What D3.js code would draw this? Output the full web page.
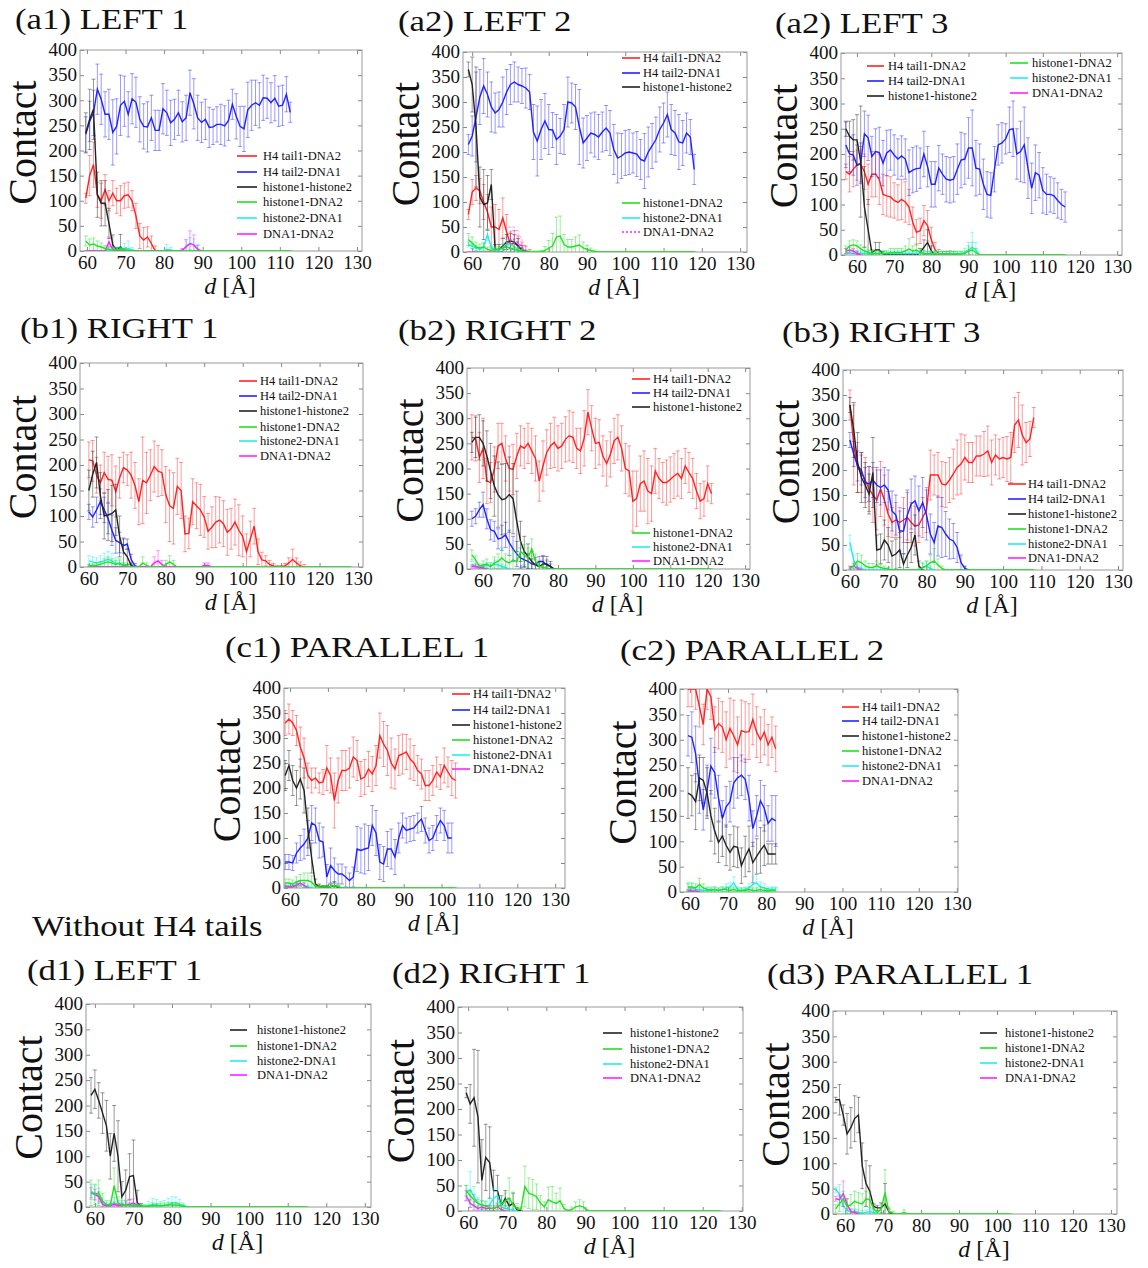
<!DOCTYPE html>
<html>
<head>
<meta charset="utf-8">
<script src="https://cdn.jsdelivr.net/npm/d3@7"></script>
<style>
  body { margin: 0; background: #fff; }
  svg { display: block; }
  text { font-family: "Liberation Serif", "Times New Roman", serif; fill: #111; }
</style>
</head>
<body>
<svg id="fig" width="1148" height="1268"></svg>
<script>
// ---- shared labels ----
const xTicks = [60, 70, 80, 90, 100, 110, 120, 130];
const yTicks = [0, 50, 100, 150, 200, 250, 300, 350, 400];
const seriesNames = ["H4 tail1-DNA2", "H4 tail2-DNA1", "histone1-histone2", "histone1-DNA2", "histone2-DNA1", "DNA1-DNA2"];
const seriesColors = ["#ff2222", "#2222ff", "#222222", "#22e022", "#22eeee", "#ff22ff"];

// ---- (a1) LEFT 1 ----
const a1Tail1 = [105,150,172,112,100,122,100,115,100,100,110,112,100,70,30,22,28,15,0];
const a1Tail1Err = [10,40,45,25,35,30,20,25,25,30,25,25,20,25,25,25,20,15,10];
const a1Tail2 = [232,258,275,322,302,272,272,236,248,290,298,272,303,296,262,248,247,265,240,240,283,275,255,262,275,257,265,315,293,265,256,262,246,247,252,252,249,260,292,268,248,243,281,290,295,290,305,304,295,304,288,290,312,276];
const a1Tail2Err = [35,40,45,50,50,45,50,65,55,60,50,45,50,50,45,45,50,45,40,40,50,45,45,40,45,40,45,45,50,45,40,40,40,35,35,40,40,40,30,45,40,45,55,50,45,45,45,40,40,45,40,40,35,20];
const a1H1H2 = [235,262,282,112,95,95,55,12,2,8,0];
const a1H1H2Err = [40,60,60,45,45,45,30,20,5,25,5];
const a1H1D2 = [20,12,14,10,8,5,3,2,3,2,2,1];
const a1H1D2Err = [10,12,12,10,8,6,5,4,4,4,3,2];
const a1H2D1 = [0,0,0,0,0,0,2,3,3,3,5,5,2,0,0,0,0,0,0,0,0,3,2,0,0,0,10,15,12,5,0];
const a1H2D1Err = [0,0,0,0,0,0,3,5,5,5,10,15,5,0,0,0,0,0,0,0,0,10,5,0,0,0,10,12,12,8,0];
const a1D1D2 = [0,0,0,0,0,0,18,3,0,0,0,0,0,0,0,0,0,0,0,0,0,0,0,0,0,2,8,15,12,3,0];
const a1D1D2Err = [0,0,0,0,0,0,10,5,0,0,0,0,0,0,0,0,0,0,0,0,0,0,0,0,0,3,15,25,20,8,0];

// ---- (a2) LEFT 2 ----
const a2Tail1 = [75,120,128,122,100,80,50,50,45,68,40,15,18,12,5,2,0];
const a2Tail1Err = [10,25,25,25,35,35,40,45,40,40,35,25,25,20,15,10,5];
const a2Tail2 = [215,232,270,310,332,315,290,278,285,300,320,335,340,335,332,328,320,240,222,245,262,245,244,225,232,245,300,298,290,250,218,228,238,235,230,240,248,238,205,188,192,198,200,198,196,185,182,200,212,225,245,258,275,245,238,220,218,238,230,165];
const a2Tail2Err = [20,40,90,55,55,45,50,40,35,50,45,40,40,35,35,40,35,55,70,60,55,50,35,50,35,50,50,40,45,75,50,45,40,45,45,40,45,45,50,50,45,45,45,40,45,40,55,50,45,45,45,40,45,50,45,55,45,40,35,30];
const a2H1H2 = [365,335,250,110,95,98,135,5,5,12,20,22,20,12,3,0];
const a2H1H2Err = [15,55,120,60,70,55,30,10,10,15,15,15,15,15,10,0];
const a2H1D2 = [25,18,10,8,10,5,3,5,6,8,10,8,5,3,1,0,0,0,0,0,3,8,12,30,32,15,10,10,12,14,8,5,3,1,0];
const a2H1D2Err = [12,12,10,8,8,5,5,5,5,8,10,8,5,5,3,2,2,2,2,3,8,15,25,40,40,20,15,15,18,20,12,8,5,3,0];
const a2H2D1 = [15,12,8,5,10,35,8,5,3,8,15,15,10,5,2,0];
const a2H2D1Err = [5,5,5,5,8,12,5,5,5,8,10,10,10,5,3,0];
const a2D1D2 = [0,0,0,0,0,0,0,0,0,0,15,25,25,18,10,3,0];
const a2D1D2Err = [0,0,0,0,0,0,0,0,0,0,15,25,25,25,20,10,0];

// ---- (a2) LEFT 3 ----
const a3Tail1 = [165,160,170,178,180,165,140,160,160,150,120,117,115,108,104,110,105,95,65,45,48,68,58,30,10,3,2,2,3,2,0];
const a3Tail1Err = [15,35,35,30,35,35,40,45,45,50,40,40,40,35,35,40,40,35,30,25,25,30,30,25,15,8,5,5,5,5,0];
const a3Tail2 = [218,200,198,178,182,240,232,195,205,203,182,202,208,198,190,196,190,163,168,171,172,200,175,140,140,172,160,150,148,150,170,188,190,212,212,172,170,140,120,118,170,218,222,230,248,250,200,205,218,172,132,163,158,128,120,120,117,108,100,95];
const a3Tail2Err = [45,35,40,40,40,45,45,40,45,50,45,45,40,40,40,40,40,45,45,45,40,45,40,45,45,45,40,45,45,45,50,55,50,60,75,55,50,50,45,45,45,40,40,30,45,55,50,60,75,60,50,55,45,45,40,35,35,35,30,30];
const a3H1H2 = [250,235,228,228,185,95,50,5,10,10,2,0,0,0,0,0,0,0,0,0,5,15,25,8,0];
const a3H1H2Err = [15,30,40,50,110,80,60,5,15,15,5,0,0,0,0,0,0,0,0,0,8,15,25,10,0];
const a3H1D2 = [10,18,20,18,12,8,5,3,3,3,3,3,5,5,5,5,8,12,8,10,5,3,2,2,2,2,2,2,2,2,2,2,3,8,10,5,0];
const a3H1D2Err = [8,10,10,10,8,8,5,5,5,5,5,5,8,8,8,8,10,20,10,12,8,5,5,5,5,5,5,5,5,5,5,5,5,10,15,8,0];
const a3H2D1 = [5,3,3,3,3,3,3,3,3,3,3,3,3,3,3,3,3,3,3,3,3,3,3,3,3,3,3,3,3,3,3,3,5,10,15,10,0];
const a3H2D1Err = [8,5,5,5,5,5,5,5,5,5,5,5,5,5,5,5,5,5,5,5,5,5,5,5,5,5,5,5,5,5,5,5,8,15,30,15,0];
const a3D1D2 = [8,10,8,3,0];
const a3D1D2Err = [5,5,5,3,0];

// ---- (b1) RIGHT 1 ----
const b1Tail1 = [210,208,180,165,185,172,170,148,175,195,190,180,160,128,170,165,180,197,188,185,142,120,115,158,150,65,66,128,120,112,98,70,78,88,92,85,68,75,88,72,60,30,55,80,30,14,12,5,2,0,0,2,8,15,8,2,0];
const b1Tail1Err = [35,40,35,35,40,45,50,50,40,30,30,45,45,45,85,60,50,50,50,45,55,70,70,55,55,35,30,45,45,50,40,35,40,50,45,45,45,40,45,50,40,35,35,35,25,15,10,8,5,3,3,5,10,20,10,8,5];
const b1Tail2 = [108,98,112,128,112,95,72,52,48,42,45,15,2,0];
const b1Tail2Err = [15,20,25,25,25,30,30,25,20,15,10,10,5,0];
const b1H1H2 = [150,182,205,140,100,102,105,112,60,30,20,3,0];
const b1H1H2Err = [40,45,50,45,45,50,55,50,40,25,15,5,0];
const b1H1D2 = [2,3,3,5,8,10,8,5,8,3,2,0,0,0,8,3,0,0,0,0,5,10,5,0];
const b1H1D2Err = [3,3,5,5,8,10,8,8,8,5,3,0,0,0,12,5,0,0,0,0,8,12,8,0];
const b1H2D1 = [12,10,8,10,12,15,12,8,5,3,0];
const b1H2D1Err = [10,10,10,12,15,15,15,10,8,5,0];
const b1D1D2 = [0,0,0,0,0,0,0,0,0,0,0,0,0,0,0,0,0,8,12,5,0,0,0,0,0,0,0,0,0,0,3,3,0];
const b1D1D2Err = [0,0,0,0,0,0,0,0,0,0,0,0,0,0,0,0,0,12,20,8,0,0,0,0,0,0,0,0,0,0,5,5,0];

// ---- (b2) RIGHT 2 ----
const b2Tail1 = [262,260,222,240,175,172,198,245,250,220,200,198,225,245,240,250,235,220,175,205,232,245,252,240,245,258,265,262,240,235,260,312,280,250,252,225,210,228,255,262,240,200,195,135,140,170,175,155,150,195,180,172,172,178,185,190,180,205,192,180,155,135,140,170,150];
const b2Tail1Err = [45,45,50,60,45,40,45,45,40,45,45,50,45,40,40,40,45,45,40,50,45,45,50,45,45,45,50,50,40,45,55,45,45,50,45,40,45,45,45,45,45,50,50,60,55,55,60,65,55,45,40,40,45,45,45,45,40,35,40,40,35,35,35,35,20];
const b2Tail2 = [100,105,118,128,100,78,75,60,62,68,52,40,30,22,18,15,10,8,15,15,8,5,0];
const b2Tail2Err = [15,15,15,25,20,20,20,20,25,25,25,25,25,20,15,15,10,10,10,12,10,5,0];
const b2H1H2 = [252,262,262,250,225,195,165,148,138,140,148,140,95,55,35,25,15,8,5,10,10,5,0];
const b2H1H2Err = [20,40,45,45,50,55,60,65,70,70,75,70,60,40,30,25,20,15,10,15,15,10,0];
const b2H1D2 = [28,18,5,8,10,5,12,15,22,15,12,18,15,35,28,22,40,15,5,3,2,0];
const b2H1D2Err = [10,8,5,8,10,8,12,15,20,15,15,20,20,20,20,20,20,15,8,5,3,0];
const b2H2D1 = [10,5,3,5,8,5,10,8,5,3,0];
const b2H2D1Err = [5,5,5,5,5,5,8,8,5,5,0];
const b2D1D2 = [5,5,3,2,0];
const b2D1D2Err = [3,3,3,2,0];

// ---- (b3) RIGHT 3 ----
const b3Tail1 = [330,250,205,195,180,162,150,140,162,140,112,95,100,95,100,105,95,88,90,105,120,190,190,190,172,170,180,192,205,212,225,215,215,228,228,232,238,215,230,222,225,222,225,290,300,270,255,262,305];
const b3Tail1Err = [30,80,50,40,45,45,55,60,55,50,45,30,35,30,45,50,40,40,35,40,45,50,40,45,45,45,45,50,55,60,45,40,40,40,40,45,50,45,40,40,40,45,50,55,55,60,40,35,20];
const b3Tail2 = [260,232,208,200,175,172,180,170,165,170,160,118,110,78,78,110,132,138,118,135,110,72,55,88,85,72,62,58,45,15,3,0];
const b3Tail2Err = [15,25,30,30,30,35,35,35,35,35,40,40,40,40,45,50,50,50,50,50,50,40,40,60,60,45,40,35,30,15,5,0];
const b3H1H2 = [330,280,215,185,170,152,195,40,42,60,50,28,32,40,12,30,45,70,8,0];
const b3H1H2Err = [15,55,60,50,45,40,70,30,30,40,35,30,30,35,20,25,30,40,10,0];
const b3H1D2 = [3,8,18,15,8,5,5,8,5,3,2,0,0,0,0,0,0,0,0,5,8,15,18,10,3,0];
const b3H1D2Err = [3,8,15,15,10,8,8,10,8,5,3,0,0,0,0,0,0,0,0,8,10,15,25,12,5,0];
const b3H2D1 = [55,20,5,3,0,0,0,0,0,0,0,0,0,0,0,0,0,0,0,5,8,3,0];
const b3H2D1Err = [15,10,5,3,0,0,0,0,0,0,0,0,0,0,0,0,0,0,0,10,10,5,0];
const b3D1D2 = [5,8,3,0];
const b3D1D2Err = [3,5,3,0];

// ---- (c1) PARALLEL 1 ----
const c1Tail1 = [330,338,330,315,282,260,225,215,220,210,212,240,225,175,215,235,235,240,262,255,218,222,238,228,245,305,288,275,250,238,265,268,272,258,250,235,228,205,205,215,232,222,245,232,220,215];
const c1Tail1Err = [25,30,25,30,40,40,25,25,20,20,25,45,35,55,45,40,40,40,40,40,35,35,35,35,40,45,45,50,50,40,40,40,35,40,35,30,30,30,30,30,30,25,35,30,35,35];
const c1Tail2 = [52,52,50,70,80,88,100,130,125,95,92,22,45,35,28,28,22,15,22,78,75,78,80,125,110,52,48,78,78,62,100,125,115,118,120,130,138,115,95,100,120,135,125,100,100];
const c1Tail2Err = [15,15,15,20,25,30,35,35,35,35,30,25,35,25,20,20,20,15,20,45,45,50,45,40,45,35,35,35,40,35,30,25,25,25,25,20,25,25,25,25,25,25,30,30,30];
const c1H1H2 = [225,245,215,200,218,195,120,60,8,3,2,2,3,5,1,0];
const c1H1H2Err = [30,30,30,35,40,45,40,30,10,5,3,3,5,8,3,0];
const c1H1D2 = [10,10,8,12,15,15,15,12,3,2,2,2,3,5,3,0];
const c1H1D2Err = [8,8,8,10,12,15,15,12,5,3,3,3,5,5,3,0];
const c1H2D1 = [5,3,3,8,10,5,3,0];
const c1H2D1Err = [5,3,3,5,5,5,3,0];
const c1D1D2 = [3,2,3,5,10,5,0];
const c1D1D2Err = [3,2,3,5,5,5,0];

// ---- (c2) PARALLEL 2 ----
const c2Tail1 = [400,400,400,365,330,400,385,320,332,325,300,322,308,290,318,315,316,340,315,300,315,290,305,282];
const c2Tail1Err = [35,35,40,40,40,40,45,45,50,50,55,60,70,55,60,60,55,50,50,45,45,40,40,45];
const c2Tail2 = [308,305,272,210,162,200,248,235,185,145,168,178,215,225,230,222,185,125,150,180,165,135,145,140];
const c2Tail2Err = [40,50,55,55,40,50,55,50,45,35,40,40,50,40,40,40,45,35,40,40,45,35,45,50];
const c2H1H2 = [195,190,178,225,220,195,150,120,98,110,92,78,90,88,52,70,85,58,70,82,92,75,75,75];
const c2H1H2Err = [50,40,55,45,45,50,50,45,40,40,40,35,40,40,35,40,45,40,35,45,40,20,20,20];
const c2H1D2 = [10,10,8,15,8,5,3,5,3,5,5,3,5,2,3,3,5,3,3,5,3,2,3,3];
const c2H1D2Err = [8,8,8,12,8,5,5,5,5,5,5,5,5,5,5,5,5,5,5,5,5,5,5,5];
const c2H2D1 = [8,8,5,5,3,3,5,5,3,5,8,10,18,5,3,5,8,15,18,10,8,5,5,5];
const c2H2D1Err = [8,8,5,5,5,5,5,5,5,5,8,8,12,5,5,5,8,15,18,10,8,5,5,5];
const c2D1D2 = [3,2,2,0];
const c2D1D2Err = [2,2,2,0];

// ---- (d1) LEFT 1, without H4 tails ----
const d1H1H2 = [220,232,210,185,160,100,145,100,20,33,60,62,8,2,0];
const d1H1H2Err = [35,38,35,40,50,45,55,70,30,40,45,70,25,5,0];
const d1H1D2 = [28,25,28,12,5,3,42,8,3,5,3,2,2,1,1,1,3,2,2,3,4,4,4,3,1,0];
const d1H1D2Err = [25,20,25,15,8,5,35,12,5,8,5,3,3,3,3,3,5,5,5,5,5,5,5,5,3,0];
const d1H2D1 = [30,28,22,8,3,5,8,5,5,5,3,2,2,1,1,3,5,5,3,3,5,8,8,5,3,0];
const d1H2D1Err = [15,15,15,8,5,8,10,8,8,8,5,3,3,3,3,8,12,10,8,10,12,12,12,10,5,0];
const d1D1D2 = [28,25,20,5,2,3,5,3,3,5,5,8,3,0];
const d1D1D2Err = [10,10,10,5,3,3,5,3,3,5,8,8,5,0];

// ---- (d2) RIGHT 1, without H4 tails ----
const d2H1H2 = [232,210,222,185,60,105,95,40,40,10,25,10,15,2,0];
const d2H1H2Err = [10,38,95,130,80,65,70,40,30,20,15,15,20,5,0];
const d2H1D2 = [40,30,22,15,12,10,6,5,8,12,20,25,12,5,3,48,35,32,28,15,8,22,18,15,20,5,0,3,8,10,8,0];
const d2H1D2Err = [10,10,10,8,8,8,5,5,8,10,15,40,25,10,5,40,30,30,25,15,10,25,30,20,25,8,3,5,10,12,10,3];
const d2H2D1 = [35,42,28,15,10,10,12,25,30,8,5,3,2,0];
const d2H2D1Err = [15,35,20,12,10,10,12,20,15,10,5,5,3,0];
const d2D1D2 = [30,15,10,5,8,5,5,5,8,3,0];
const d2D1D2Err = [10,8,8,5,5,5,5,5,5,3,0];

// ---- (d3) PARALLEL 1, without H4 tails ----
const d3H1H2 = [225,225,195,158,170,188,195,95,60,45,15,12,12,20,5,0];
const d3H1H2Err = [5,30,20,40,40,45,35,45,45,50,5,5,10,40,5,0];
const d3H1D2 = [10,20,30,15,18,25,22,20,30,28,10,3,10,42,5,2,0,0,3,0];
const d3H1D2Err = [8,15,15,15,20,20,20,20,15,15,8,5,10,45,8,3,0,0,5,0];
const d3H2D1 = [48,40,15,8,3,5,3,2,3,5,3,0];
const d3H2D1Err = [5,18,15,10,5,5,5,5,5,5,5,0];
const d3D1D2 = [30,28,40,20,5,3,0];
const d3D1D2Err = [5,10,25,10,5,5,0];

// panel layout: box = [left, top, right, bottom] in px, dom = x domain in Å,
// start = d of first sample (1 Å spacing), n = samples along the green zero line
const panels = [
  { id: "a1", title: "(a1) LEFT 1", tx: 15, ty: 29, box: [80, 50, 362, 251], dom: [58.2, 131.3], start: 59.7, n: 54,
    data: [[a1Tail1, a1Tail1Err], [a1Tail2, a1Tail2Err], [a1H1H2, a1H1H2Err], [a1H1D2, a1H1D2Err], [a1H2D1, a1H2D1Err], [a1D1D2, a1D1D2Err]],
    legend: [{ x1: 237, x2: 257, tx: 263, rows: [156, 172, 187, 202, 218, 234], items: [0, 1, 2, 3, 4, 5] }] },
  { id: "a2", title: "(a2) LEFT 2", tx: 398, ty: 31, box: [463, 52, 747, 252], dom: [57.6, 131.8], start: 59, n: 60, dashed: 5,
    data: [[a2Tail1, a2Tail1Err], [a2Tail2, a2Tail2Err], [a2H1H2, a2H1H2Err], [a2H1D2, a2H1D2Err], [a2H2D1, a2H2D1Err], [a2D1D2, a2D1D2Err]],
    legend: [{ x1: 622, x2: 640, tx: 643, rows: [58, 73, 87], items: [0, 1, 2] },
             { x1: 622, x2: 640, tx: 643, rows: [203, 218, 232], items: [3, 4, 5] }] },
  { id: "a3", title: "(a2) LEFT 3", tx: 775, ty: 33, box: [841, 53, 1122, 255], dom: [55.7, 131.3], start: 57, n: 60,
    data: [[a3Tail1, a3Tail1Err], [a3Tail2, a3Tail2Err], [a3H1H2, a3H1H2Err], [a3H1D2, a3H1D2Err], [a3H2D1, a3H2D1Err], [a3D1D2, a3D1D2Err]],
    legend: [{ x1: 867, x2: 884, tx: 888, rows: [66, 81, 96], items: [0, 1, 2] },
             { x1: 1010, x2: 1028, tx: 1032, rows: [63, 78, 93], items: [3, 4, 5] }] },
  { id: "b1", title: "(b1) RIGHT 1", tx: 20, ty: 338, box: [80, 363, 363, 567], dom: [57.7, 131.3], start: 60, n: 69,
    data: [[b1Tail1, b1Tail1Err], [b1Tail2, b1Tail2Err], [b1H1H2, b1H1H2Err], [b1H1D2, b1H1D2Err], [b1H2D1, b1H2D1Err], [b1D1D2, b1D1D2Err]],
    legend: [{ x1: 239, x2: 257, tx: 260, rows: [381, 396, 411, 427, 441, 456], items: [0, 1, 2, 3, 4, 5] }] },
  { id: "b2", title: "(b2) RIGHT 2", tx: 398, ty: 340, box: [467, 368, 750, 569], dom: [55.7, 131.3], start: 57, n: 65,
    data: [[b2Tail1, b2Tail1Err], [b2Tail2, b2Tail2Err], [b2H1H2, b2H1H2Err], [b2H1D2, b2H1D2Err], [b2H2D1, b2H2D1Err], [b2D1D2, b2D1D2Err]],
    legend: [{ x1: 632, x2: 650, tx: 653, rows: [379, 393, 407], items: [0, 1, 2] },
             { x1: 632, x2: 650, tx: 653, rows: [533, 547, 561], items: [3, 4, 5] }] },
  { id: "b3", title: "(b3) RIGHT 3", tx: 782, ty: 342, box: [843, 370, 1123, 570], dom: [58.2, 131.3], start: 60, n: 49,
    data: [[b3Tail1, b3Tail1Err], [b3Tail2, b3Tail2Err], [b3H1H2, b3H1H2Err], [b3H1D2, b3H1D2Err], [b3H2D1, b3H2D1Err], [b3D1D2, b3D1D2Err]],
    legend: [{ x1: 1008, x2: 1026, tx: 1028, rows: [484, 499, 514, 529, 544, 558], items: [0, 1, 2, 3, 4, 5] }] },
  { id: "c1", title: "(c1) PARALLEL 1", tx: 225, ty: 657, box: [284, 688, 565, 888], dom: [58.4, 132.6], start: 58.7, n: 46,
    data: [[c1Tail1, c1Tail1Err], [c1Tail2, c1Tail2Err], [c1H1H2, c1H1H2Err], [c1H1D2, c1H1D2Err], [c1H2D1, c1H2D1Err], [c1D1D2, c1D1D2Err]],
    legend: [{ x1: 452, x2: 470, tx: 473, rows: [694, 710, 725, 740, 755, 769], items: [0, 1, 2, 3, 4, 5] }] },
  { id: "c2", title: "(c2) PARALLEL 2", tx: 620, ty: 660, box: [680, 689, 958, 892], dom: [57.4, 130.3], start: 59.5, n: 24,
    data: [[c2Tail1, c2Tail1Err], [c2Tail2, c2Tail2Err], [c2H1H2, c2H1H2Err], [c2H1D2, c2H1D2Err], [c2H2D1, c2H2D1Err], [c2D1D2, c2D1D2Err]],
    legend: [{ x1: 842, x2: 859, tx: 862, rows: [707, 721, 736, 751, 766, 781], items: [0, 1, 2, 3, 4, 5] }] },
  { id: "d1", title: "(d1) LEFT 1", tx: 27, ty: 980, box: [86, 1004, 371, 1207], dom: [57.7, 131.6], start: 59, n: 57,
    data: [null, null, [d1H1H2, d1H1H2Err], [d1H1D2, d1H1D2Err], [d1H2D1, d1H2D1Err], [d1D1D2, d1D1D2Err]],
    legend: [{ x1: 230, x2: 247, tx: 257, rows: [1030, 1046, 1061, 1075], items: [2, 3, 4, 5] }] },
  { id: "d2", title: "(d2) RIGHT 1", tx: 392, ty: 983, box: [458, 1007, 743, 1211], dom: [57.4, 130.3], start: 59.5, n: 66,
    data: [null, null, [d2H1H2, d2H1H2Err], [d2H1D2, d2H1D2Err], [d2H2D1, d2H2D1Err], [d2D1D2, d2D1D2Err]],
    legend: [{ x1: 603, x2: 622, tx: 630, rows: [1033, 1049, 1064, 1078], items: [2, 3, 4, 5] }] },
  { id: "d3", title: "(d3) PARALLEL 1", tx: 767, ty: 984, box: [833, 1011, 1117, 1214], dom: [56.8, 131.6], start: 57.5, n: 47,
    data: [null, null, [d3H1H2, d3H1H2Err], [d3H1D2, d3H1D2Err], [d3H2D1, d3H2D1Err], [d3D1D2, d3D1D2Err]],
    legend: [{ x1: 980, x2: 997, tx: 1005, rows: [1033, 1048, 1063, 1078], items: [2, 3, 4, 5] }] }
];

const svg = d3.select("#fig");
const defs = svg.append("defs");

// zeros past the end of the short green series (the plot shows them lying on 0)
function pad(arr, n) {
  const out = arr.slice();
  while (out.length < n) out.push(0);
  return out;
}

function drawPanel(p) {
  const [left, top, right, bottom] = p.box;
  const x = d3.scaleLinear().domain(p.dom).range([left, right]);
  const y = d3.scaleLinear().domain([0, 400]).range([bottom, top]);
  const g = svg.append("g").attr("id", "panel-" + p.id);

  g.append("text").attr("class", "title").attr("x", p.tx).attr("y", p.ty)
    .attr("font-size", 30).text(p.title);

  defs.append("clipPath").attr("id", "clip-" + p.id)
    .append("rect").attr("x", left).attr("y", top).attr("width", right - left).attr("height", bottom - top);

  // axes, ticks pointing inwards on all four sides
  const xb = g.append("g").attr("transform", `translate(0,${bottom})`)
    .call(d3.axisBottom(x).tickValues(xTicks).tickSize(-4).tickPadding(5).tickFormat(d3.format("d")));
  const yl = g.append("g").attr("transform", `translate(${left},0)`)
    .call(d3.axisLeft(y).tickValues(yTicks).tickSize(-4).tickPadding(3).tickFormat(d3.format("d")));
  g.append("g").attr("transform", `translate(0,${top})`)
    .call(d3.axisTop(x).tickValues(xTicks).tickSize(-4).tickFormat(""));
  g.append("g").attr("transform", `translate(${right},0)`)
    .call(d3.axisRight(y).tickValues(yTicks).tickSize(-4).tickFormat(""));
  g.selectAll(".domain").remove();
  g.selectAll(".tick line").attr("stroke", "#888");
  [xb, yl].forEach(a => a.selectAll("text").attr("class", "tk").attr("font-size", 18).attr("fill", "#111"));

  g.append("rect").attr("x", left).attr("y", top).attr("width", right - left).attr("height", bottom - top)
    .attr("fill", "none").attr("stroke", "#999").attr("stroke-width", 1);

  // axis titles
  const cy = (top + bottom) / 2 - 8;
  g.append("text").attr("transform", `translate(${left - 44},${cy}) rotate(-90)`)
    .attr("text-anchor", "middle").attr("font-size", 40).text("Contact");
  const xl = g.append("text").attr("x", (left + right) / 2 + 9).attr("y", bottom + 43)
    .attr("text-anchor", "middle").attr("font-size", 24);
  xl.append("tspan").attr("font-style", "italic").text("d");
  xl.append("tspan").text(" [Å]");

  // series: green drawn last so it lies on top along the zero line
  const plot = g.append("g").attr("clip-path", `url(#clip-${p.id})`);
  const line = d3.line().x(pt => x(pt.d)).y(pt => y(pt.v));
  [0, 1, 2, 4, 5, 3].forEach(s => {
    const pair = p.data[s];
    if (!pair) return;
    const len = s === 3 ? p.n : pair[0].length;
    const vals = pad(pair[0], len);
    const errs = pad(pair[1], len);
    const pts = vals.map((v, i) => ({ d: p.start + i, v: v, e: errs[i] }));
    const dash = p.dashed === s ? "2,2" : null;

    plot.append("g").attr("fill", "none").attr("stroke", seriesColors[s])
      .attr("stroke-opacity", 0.45).attr("stroke-width", 1).attr("stroke-dasharray", dash)
      .selectAll("path").data(pts).join("path")
      .attr("d", pt => {
        const xx = x(pt.d), ya = y(pt.v - pt.e), yb = y(pt.v + pt.e);
        return `M${xx},${ya}V${yb}M${xx - 2},${ya}H${xx + 2}M${xx - 2},${yb}H${xx + 2}`;
      });

    plot.append("path").datum(pts).attr("d", line).attr("fill", "none")
      .attr("stroke", seriesColors[s]).attr("stroke-width", 1.4).attr("stroke-dasharray", dash);
  });

  // legend
  p.legend.forEach(L => {
    L.items.forEach((s, k) => {
      const ry = L.rows[k];
      g.append("line").attr("x1", L.x1).attr("x2", L.x2).attr("y1", ry).attr("y2", ry)
        .attr("stroke", seriesColors[s]).attr("stroke-width", 1.6)
        .attr("stroke-dasharray", p.dashed === s ? "2,2" : null);
      g.append("text").attr("x", L.tx).attr("y", ry).attr("dy", "0.35em")
        .attr("font-size", 12.5).text(seriesNames[s]);
    });
  });
}

panels.forEach(drawPanel);

svg.append("text").attr("class", "title").attr("x", 32).attr("y", 936)
  .attr("font-size", 30).text("Without H4 tails");

// the original lettering is a little wider than the plain serif face
function widen(sel, k) {
  sel.each(function () {
    const w = this.getComputedTextLength();
    d3.select(this).attr("textLength", w * k).attr("lengthAdjust", "spacingAndGlyphs");
  });
}
widen(svg.selectAll("text.title"), 1.16);
widen(svg.selectAll("text.tk"), 1.06);
</script>
</body>
</html>
